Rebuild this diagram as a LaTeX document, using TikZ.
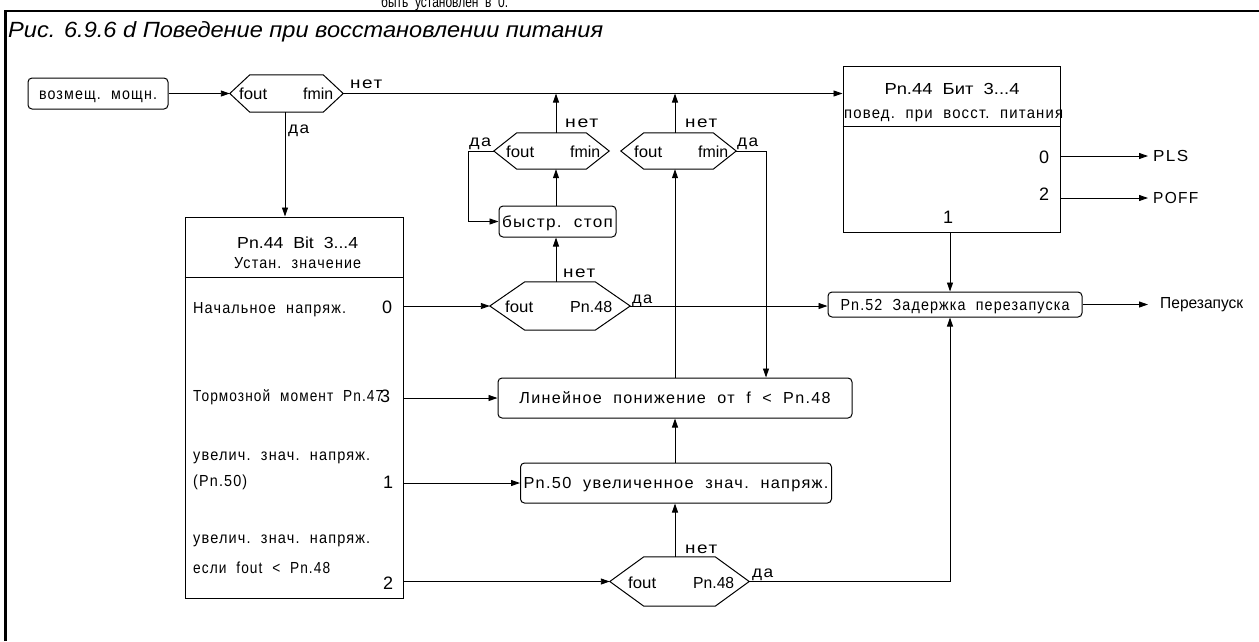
\documentclass[tikz,border=0pt]{standalone}
\usepackage{fontspec}
\setmainfont{Liberation Sans}
\newfontfamily\trk[LetterSpace=8]{Liberation Sans}
\usetikzlibrary{arrows.meta}
\newcommand\fitto[2]{\resizebox{#1pt}{\height}{#2}}
\newcommand\fsz{\fontsize{16}{18}\selectfont}
\newcommand\lsz{\fontsize{16}{18}\selectfont}
\newcommand\dsz{\fontsize{18}{20}\selectfont}
\newcommand\hexnode[6]{%
  \node[minimum width=#4pt,minimum height=#5pt,inner sep=0pt] (#1) at (#2,#3) {};
  \draw[bx] (#1.west) -- ([xshift=#6pt]#1.north west) -- ([xshift=-#6pt]#1.north east) -- (#1.east) -- ([xshift=-#6pt]#1.south east) -- ([xshift=#6pt]#1.south west) -- cycle;}
\begin{document}
\begin{tikzpicture}[x=1pt,y=-1pt,
  every node/.style={inner sep=0pt,font=\fsz},
  bx/.style={draw,line width=1pt},
  rbox/.style={draw,line width=1pt,rounded corners=4pt,text height=11.5pt,text depth=0pt},
  arr/.style={line width=0.9pt,-{Triangle[length=9pt,width=6pt]}},
  yn/.style={anchor=base west,font=\lsz\trk},
  dg/.style={anchor=base west,font=\dsz},
  lt/.style={anchor=base west,font=\lsz\trk}]
\useasboundingbox (0,0) rectangle (1259,641);
\clip (0,0) rectangle (1259,641);
% frame and title
\draw[line width=2.5pt] (5.5,641) -- (5.5,11) -- (1260,11);
\node[anchor=base west] (cut) at (381,7.5) {\fitto{127}{\fontsize{16}{18}\selectfont быть~~установлен~~в~~0.}};
\node[anchor=base west] (title) at (8,37) {\fitto{595}{\fontsize{22}{24}\selectfont\itshape Рис. 6.9.6 d Поведение при восстановлении питания}};
% column coordinates
\coordinate (cA) at (556,0);
\coordinate (cB) at (675,0);
\coordinate (cC) at (766,0);
\coordinate (cD) at (468,0);
\coordinate (cE) at (950,0);
% top row
\node[rbox,minimum width=140pt,minimum height=31pt] (pw) at (98,93.5) {\fitto{118}{\lsz\trk возмещ.~~мощн.}};
\hexnode{h1}{286.5}{93.5}{113}{37}{20}
\node[anchor=base west] (h1a) at (239,99.5) {\fitto{28}{fout}};
\node[anchor=base west] (h1b) at (303,99.5) {\fitto{30}{fmin}};
% top right box
\node[bx,minimum width=217pt,minimum height=166pt] (R) at (951.5,149) {};
\draw[bx] (R.west |- 0,126) -- (R.east |- 0,126);
\node[anchor=base] (Rt1) at (952,94) {\fitto{135}{Pn.44~~Бит~~3...4}};
\node[anchor=base west] (Rt2) at (844,118) {\fitto{219}{\lsz\trk повед.~~при~~восст.~~питания}};
\node[dg] (R0) at (1039,163) {0};
\node[dg] (R2) at (1039,200) {2};
\node[dg] (R1) at (943,223) {1};
\node[anchor=west,inner xsep=5pt] (pls) at (1148,156) {\fitto{35}{\lsz\trk PLS}};
\node[anchor=west,inner xsep=5pt] (poff) at (1148,198) {\fitto{45}{\lsz\trk POFF}};
% left big box
\node[bx,minimum width=218pt,minimum height=381pt] (L) at (294,407.5) {};
\draw[bx] (L.west |- 0,277) -- (L.east |- 0,277);
\node[anchor=base west] (Lt1) at (237,248) {\fitto{121}{Pn.44~~Bit~~3...4}};
\node[anchor=base west] (Lt2) at (234,268) {\fitto{127}{\lsz\trk Устан.~~значение}};
\node[lt] (Lt3) at (193,313) {\fitto{153}{\lsz\trk Начальное~~напряж.}};
\node[lt] (Lt4) at (193,401) {\fitto{190}{\lsz\trk Тормозной~~момент~~Pn.47}};
\node[lt] (Lt5) at (193,460) {\fitto{177}{\lsz\trk увелич.~~знач.~~напряж.}};
\node[lt] (Lt6) at (193,486) {\fitto{54}{\lsz\trk (Pn.50)}};
\node[lt] (Lt7) at (193,543) {\fitto{177}{\lsz\trk увелич.~~знач.~~напряж.}};
\node[lt] (Lt8) at (193,573) {\fitto{137}{\lsz\trk если~~fout~~<~~Pn.48}};
\node[dg] (L0) at (382,313) {0};
\node[dg] (L3) at (380,402) {3};
\node[dg] (L1) at (383,488) {1};
\node[dg] (L2) at (383,589) {2};
% middle column
\hexnode{hA}{551.5}{151}{115}{36}{23}
\node[anchor=base west] (hAa) at (506,157) {\fitto{28}{fout}};
\node[anchor=base west] (hAb) at (570,157) {\fitto{30}{fmin}};
\hexnode{hB}{678.5}{151}{115}{36}{23}
\node[anchor=base west] (hBa) at (634,157) {\fitto{28}{fout}};
\node[anchor=base west] (hBb) at (698,157) {\fitto{30}{fmin}};
\node[rbox,minimum width=117pt,minimum height=31pt] (stop) at (557.5,221.5) {\fitto{111}{\lsz\trk быстр.~~стоп}};
\hexnode{h2}{560}{306}{140}{48}{35}
\node[anchor=base west] (h2a) at (505,312) {\fitto{28}{fout}};
\node[anchor=base west] (h2b) at (570,312) {\fitto{42}{Pn.48}};
\node[rbox,minimum width=354pt,minimum height=40pt] (lin) at (675,398) {\fitto{311}{\lsz\trk Линейное~~понижение~~от~~f~~<~~Pn.48}};
\node[rbox,minimum width=311pt,minimum height=40pt] (p50) at (676,483) {\fitto{305}{\lsz\trk Pn.50~~увеличенное~~знач.~~напряж.}};
\hexnode{h3}{679.5}{581.5}{139}{49}{34}
\node[anchor=base west] (h3a) at (628,588) {\fitto{28}{fout}};
\node[anchor=base west] (h3b) at (693,588) {\fitto{41}{Pn.48}};
\node[rbox,minimum width=254pt,minimum height=25pt] (p52) at (955,304.5) {\fitto{229}{\lsz\trk Pn.52~~Задержка~~перезапуска}};
\node[anchor=west,inner xsep=12pt] (rst) at (1148,304.5) {\fitto{83}{Перезапуск}};
% yes / no labels
\node[yn] (n1) at (350,88) {\fitto{32}{нет}};
\node[yn] (d1) at (288,133) {\fitto{21}{да}};
\node[yn] (nA) at (565,127) {\fitto{33}{нет}};
\node[yn] (dA) at (469,146) {\fitto{22}{да}};
\node[yn] (nB) at (685,127) {\fitto{32}{нет}};
\node[yn] (dB) at (737,146) {\fitto{21}{да}};
\node[yn] (n2) at (563,277) {\fitto{32}{нет}};
\node[yn] (d2) at (632,303) {\fitto{20}{да}};
\node[yn] (n3) at (685,553) {\fitto{32}{нет}};
\node[yn] (d3) at (752,577) {\fitto{21}{да}};
% connectors
\draw[arr] (pw.east) -- (h1.west);
\draw[arr] (h1.east) -- (h1.east -| R.west);
\draw[arr] (h1.south -| 285,0) -- (285,0 |- L.north);
\draw[arr] (hA.north -| cA) -- (cA |- h1.east);
\draw[arr] (stop.north -| cA) -- (hA.south -| cA);
\draw[arr] (h2.north -| cA) -- (stop.south -| cA);
\draw[arr] (hA.west) -- (hA.west -| cD) |- (stop.west);
\draw[arr] (hB.north -| cB) -- (cB |- h1.east);
\draw[arr] (lin.north -| cB) -- (hB.south -| cB);
\draw[arr] (hB.east) -| (cC |- lin.north);
\draw[arr] (h2.west -| L.east) -- (h2.west);
\draw[arr] (h2.east) -- (h2.east -| p52.west);
\draw[arr] (lin.west -| L.east) -- (lin.west);
\draw[arr] (p50.west -| L.east) -- (p50.west);
\draw[arr] (h3.west -| L.east) -- (h3.west);
\draw[arr] (p50.north -| cB) -- (lin.south -| cB);
\draw[arr] (h3.north -| cB) -- (p50.south -| cB);
\draw[arr] (h3.east) -| (cE |- p52.south);
\draw[arr] (R.south -| cE) -- (p52.north -| cE);
\draw[arr] (pls.west -| R.east) -- (pls.west);
\draw[arr] (poff.west -| R.east) -- (poff.west);
\draw[arr] (p52.east) -- (rst.west);
\end{tikzpicture}
\end{document}
